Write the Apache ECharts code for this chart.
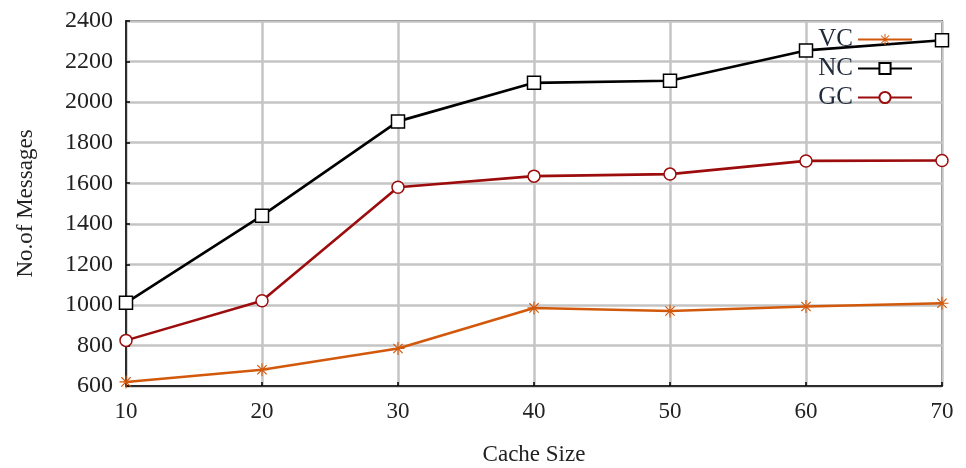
<!DOCTYPE html>
<html>
<head>
<meta charset="utf-8">
<script src="https://cdn.jsdelivr.net/npm/echarts@6/dist/echarts.min.js"></script>
<style>
html,body{margin:0;padding:0;background:#fff;}
#chart{width:966px;height:468px;}
</style>
</head>
<body>
<div id="chart"></div>
<script>
// Cache sizes on the x axis
const cacheSizes = [10, 20, 30, 40, 50, 60, 70];
// Number of messages per scheme
const vcMessages = [620, 680, 785, 985, 970, 992, 1008];
const ncMessages = [1010, 1440, 1905, 2095, 2105, 2255, 2305];
const gcMessages = [825, 1020, 1580, 1635, 1645, 1710, 1712];

const FONT = 'Liberation Serif';
const TEXT = '#222';

// eight-spoke asterisk marker
const starPath = 'path://M0,9.1 L20,9.1 L20,10.9 L0,10.9 Z M9.1,0 L10.9,0 L10.9,20 L9.1,20 Z M2.2,3.5 L3.5,2.2 L17.8,16.5 L16.5,17.8 Z M16.5,2.2 L17.8,3.5 L3.5,17.8 L2.2,16.5 Z';

function pairs(ys) { return cacheSizes.map((x, i) => [x, ys[i]]); }

const chart = echarts.init(document.getElementById('chart'), null, {renderer: 'canvas'});
chart.setOption({
  animation: false,
  backgroundColor: '#fff',
  grid: {
    left: 126, right: 24, top: 21, bottom: 82,
    outerBoundsMode: 'none', containLabel: false,
    show: true, borderColor: '#000', borderWidth: 1.5
  },
  legend: {
    right: 48, top: 22, orient: 'vertical', align: 'right',
    itemWidth: 54, itemHeight: 14, itemGap: 4,
    textStyle: {fontFamily: FONT, fontSize: 25, color: '#1f2a3a'},
    data: ['VC', 'NC', 'GC']
  },
  xAxis: {
    type: 'value', min: 10, max: 70, interval: 10,
    name: 'Cache Size', nameLocation: 'middle', nameGap: 57,
    nameTextStyle: {fontFamily: FONT, fontSize: 23, color: TEXT},
    axisLine: {lineStyle: {color: '#000', width: 1.5}},
    axisTick: {inside: true, length: 4, lineStyle: {color: '#000', width: 1.5}},
    axisLabel: {fontFamily: FONT, fontSize: 23, color: TEXT, margin: 14},
    splitLine: {show: true, lineStyle: {color: '#c4c4c4', width: 2.5}}
  },
  yAxis: {
    type: 'value', min: 600, max: 2400, interval: 200,
    name: 'No.of Messages', nameLocation: 'middle', nameGap: 89, nameRotate: 90,
    nameTextStyle: {fontFamily: FONT, fontSize: 23, color: TEXT},
    axisLine: {lineStyle: {color: '#000', width: 1.5}},
    axisTick: {inside: true, length: 4, lineStyle: {color: '#000', width: 1.5}},
    axisLabel: {fontFamily: FONT, fontSize: 24, color: TEXT, margin: 13, formatter: v => String(v)},
    splitLine: {show: true, lineStyle: {color: '#c4c4c4', width: 2.5}}
  },
  series: [
    {
      name: 'VC', type: 'line', data: pairs(vcMessages),
      symbol: starPath, symbolSize: 13, showAllSymbol: true,
      lineStyle: {color: '#d2590c', width: 2.6},
      itemStyle: {color: '#d2590c', borderWidth: 0}
    },
    {
      name: 'NC', type: 'line', data: pairs(ncMessages),
      symbol: 'rect', symbolSize: 13,
      lineStyle: {color: '#000', width: 2.6},
      itemStyle: {color: '#fff', borderColor: '#000', borderWidth: 1.5}
    },
    {
      name: 'GC', type: 'line', data: pairs(gcMessages),
      symbol: 'circle', symbolSize: 12,
      lineStyle: {color: '#9c0c0c', width: 2.6},
      itemStyle: {color: '#fff', borderColor: '#9c0c0c', borderWidth: 1.5}
    }
  ]
});
</script>
</body>
</html>
